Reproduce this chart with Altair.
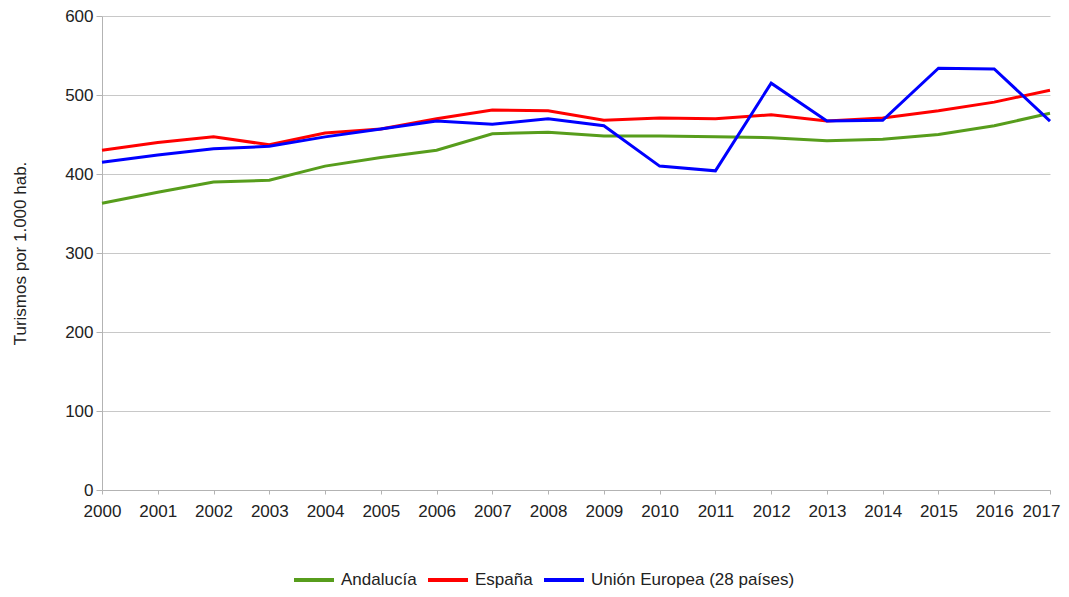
import altair as alt
import pandas as pd

years = list(range(2000, 2018))
andalucia = [363, 377, 390, 392, 410, 421, 430, 451, 453, 448, 448, 447, 446, 442, 444, 450, 461, 477]
espana = [430, 440, 447, 437, 452, 457, 470, 481, 480, 468, 471, 470, 475, 467, 471, 480, 491, 506]
ue = [415, 424, 432, 435, 447, 457, 467, 463, 470, 461, 410, 404, 515, 467, 468, 534, 533, 467]
series_names = ["Andalucía", "España", "Unión Europea (28 países)"]
series_colors = ["#579d1c", "#ff0000", "#0000ff"]

rows = []
for name, vals in zip(series_names, [andalucia, espana, ue]):
    for y, v in zip(years, vals):
        rows.append({"Año": y, "Valor": v, "Serie": name})
df = pd.DataFrame(rows)

font = "Liberation Sans"

chart = alt.Chart(df).mark_line(strokeWidth=3).encode(
    x=alt.X("Año:Q",
            scale=alt.Scale(domain=[2000, 2017], nice=False, zero=False),
            axis=alt.Axis(values=years, format="d", title=None, grid=False,
                          labelFontSize=17, labelColor="#222", labelPadding=9,
                          tickSize=4, tickColor="#b3b3b3", domainColor="#b3b3b3",
                          labelFont=font, labelFlush=False,
                          labelOffset=alt.ExprRef("datum.value == 2017 ? -9 : 0"))),
    y=alt.Y("Valor:Q",
            scale=alt.Scale(domain=[0, 600], nice=False),
            axis=alt.Axis(values=[0, 100, 200, 300, 400, 500, 600],
                          title="Turismos por 1.000 hab.", titleFontSize=17,
                          titleFontWeight="normal", titleColor="#222", titleFont=font,
                          titlePadding=35,
                          labelFontSize=17, labelColor="#222", labelFont=font,
                          tickSize=6, tickColor="#b3b3b3", domainColor="#b3b3b3",
                          gridColor="#c8c8c8", labelPadding=3)),
    color=alt.Color("Serie:N",
                    scale=alt.Scale(domain=series_names, range=series_colors),
                    sort=series_names,
                    legend=alt.Legend(title=None, orient="none", direction="horizontal",
                                      legendX=190, legendY=542,
                                      symbolType="stroke", symbolSize=1600,
                                      symbolStrokeWidth=4, labelFontSize=17,
                                      labelFont=font, labelColor="#222", labelLimit=400,
                                      columnPadding=3, labelOffset=5)),
).properties(
    width=948, height=474,
    padding={"left": 94, "top": 8, "right": 11, "bottom": 98},
    autosize=alt.AutoSizeParams(type="none"),
).configure_view(stroke=None)

chart.save("out.html", embed_options={"renderer": "svg", "actions": False})
